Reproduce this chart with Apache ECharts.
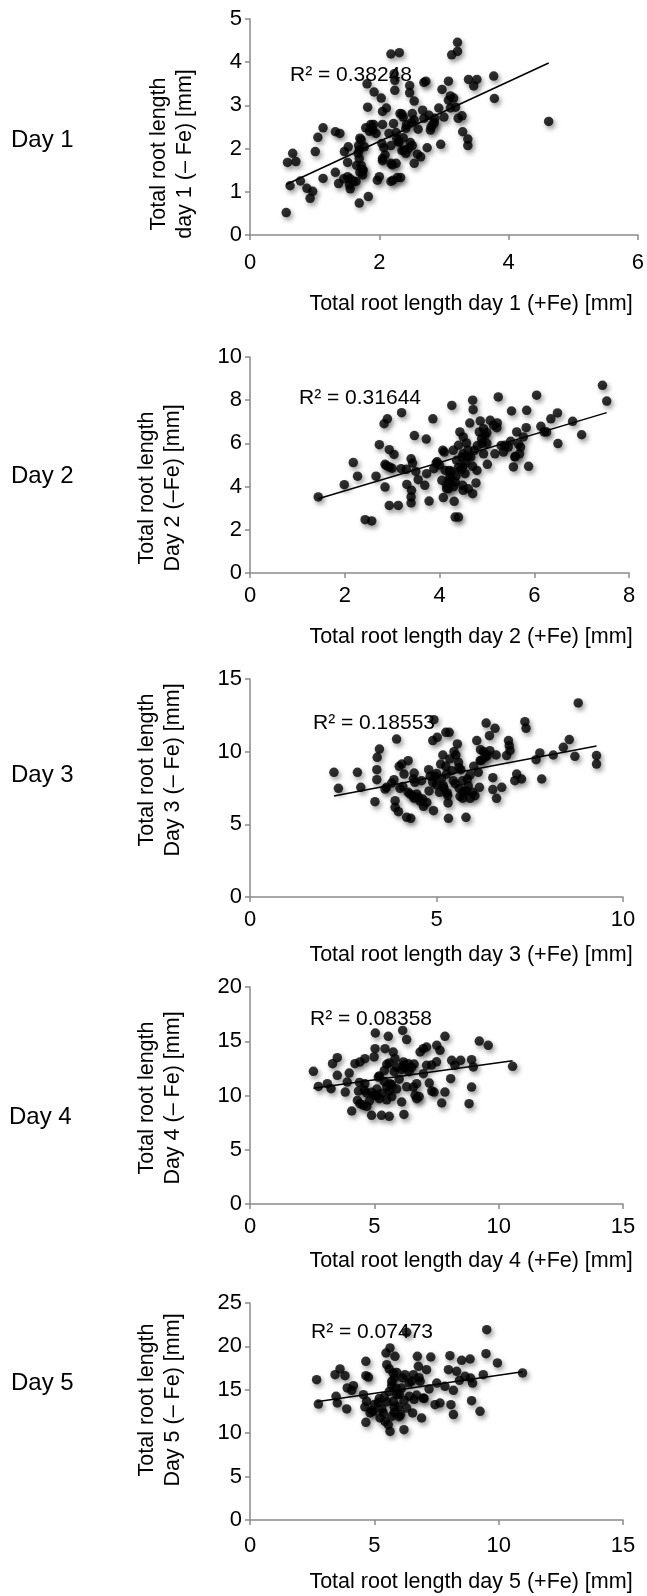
<!DOCTYPE html>
<html><head><meta charset="utf-8">
<script src="https://cdn.jsdelivr.net/npm/echarts@6/dist/echarts.min.js"></script>
<style>html,body{margin:0;padding:0;background:#fff}#c{width:647px;height:1596px}</style>
</head><body><div id="c"></div>
<script>
const day1 = [[0.56,0.52],[0.62,1.14],[0.58,1.68],[0.71,1.70],[0.66,1.89],[0.78,1.25],[0.88,1.08],[0.97,1.01],[0.93,0.85],[1.01,1.93],[1.05,2.26],[1.13,2.48],[1.13,1.31],[1.32,2.39],[1.39,2.35],[1.32,1.45],[1.37,1.19],[1.46,1.93],[1.52,2.04],[1.51,1.68],[1.51,1.35],[1.54,1.16],[1.55,1.07],[1.64,1.24],[1.69,0.74],[1.83,0.89],[1.67,1.89],[1.69,1.97],[1.69,1.77],[1.74,1.51],[1.74,1.39],[1.72,1.61],[1.65,1.61],[1.68,2.07],[1.70,2.24],[1.77,2.04],[1.79,2.48],[1.82,2.96],[1.81,3.50],[1.91,2.56],[1.90,2.43],[1.87,2.56],[1.92,3.31],[2.03,3.17],[2.05,2.86],[2.11,2.94],[2.05,2.56],[2.04,2.12],[2.07,2.02],[2.05,1.77],[2.09,1.85],[1.97,1.27],[2.00,1.35],[2.18,4.19],[2.31,4.22],[2.23,3.73],[2.24,3.58],[2.24,3.35],[2.15,2.35],[2.18,2.07],[2.18,1.66],[2.26,1.66],[2.21,1.27],[2.28,1.33],[2.33,1.33],[2.18,1.24],[2.22,2.58],[2.26,2.37],[2.32,2.81],[2.37,2.73],[2.30,2.16],[2.37,2.25],[2.38,1.97],[2.41,1.89],[2.47,3.46],[2.47,3.29],[2.54,3.10],[2.51,2.81],[2.54,2.66],[2.42,2.55],[2.48,2.14],[2.51,2.07],[2.54,1.66],[2.59,1.87],[2.64,1.81],[2.72,3.56],[2.69,3.53],[2.67,2.89],[2.69,2.70],[2.77,2.77],[2.79,2.43],[2.83,2.56],[2.74,2.02],[2.95,2.10],[2.86,2.70],[2.92,2.94],[2.97,3.37],[3.07,3.56],[3.00,2.73],[3.07,3.12],[3.10,3.22],[3.15,3.17],[3.18,2.96],[3.21,4.46],[3.21,4.25],[3.12,4.17],[3.10,2.94],[3.22,2.70],[3.28,2.76],[3.29,2.39],[3.37,2.22],[3.37,2.07],[3.38,3.60],[3.51,3.60],[3.46,3.45],[3.77,3.68],[3.78,3.16],[4.62,2.63],[2.41,2.47],[2.27,2.23],[1.55,1.30],[1.60,1.25],[1.70,1.45],[1.75,1.50],[1.72,2.20],[1.85,2.40],[1.95,2.35],[2.05,1.72],[2.20,1.62],[2.35,1.95],[2.45,2.00],[2.30,2.15],[2.50,2.60],[2.60,2.45],[2.35,2.80],[2.80,2.50],[2.85,2.60],[1.45,1.30]];
const day2 = [[1.44,3.52],[1.99,4.09],[2.18,5.11],[2.27,4.48],[2.43,2.47],[2.57,2.41],[2.66,4.48],[2.73,5.94],[2.83,6.91],[2.90,7.14],[2.85,5.03],[2.85,3.98],[2.94,3.13],[3.13,3.13],[2.94,5.71],[3.04,5.49],[2.94,4.91],[3.20,7.42],[3.19,4.83],[3.40,5.29],[3.43,5.09],[3.31,4.10],[3.41,3.83],[3.40,3.52],[3.40,3.24],[3.47,6.36],[3.55,4.32],[3.69,4.06],[3.72,6.20],[3.73,4.60],[3.78,3.33],[3.86,7.14],[3.88,4.83],[3.93,5.09],[4.07,5.68],[4.08,3.49],[4.05,4.29],[4.15,4.06],[4.15,3.90],[4.12,4.75],[4.21,4.75],[4.26,7.76],[4.29,5.68],[4.22,4.44],[4.19,3.90],[4.31,3.32],[4.33,2.59],[4.40,2.59],[4.33,4.21],[4.36,5.22],[4.40,5.91],[4.43,6.53],[4.50,6.30],[4.47,5.37],[4.50,5.52],[4.49,4.91],[4.54,4.60],[4.49,4.06],[4.50,3.83],[4.61,3.90],[4.70,8.00],[4.71,7.56],[4.64,6.94],[4.57,6.02],[4.66,5.37],[4.70,4.94],[4.70,3.67],[4.79,4.75],[4.77,4.17],[4.74,5.68],[4.86,7.04],[4.84,6.53],[4.89,6.22],[4.93,6.68],[4.96,6.37],[5.00,6.00],[5.01,5.03],[4.93,5.52],[5.07,7.07],[5.14,6.84],[5.17,5.52],[5.21,6.73],[5.24,8.15],[5.22,6.95],[5.35,5.60],[5.38,5.91],[5.45,5.83],[5.52,7.50],[5.56,4.91],[5.59,5.37],[5.63,6.53],[5.67,5.96],[5.69,5.52],[5.71,5.83],[5.84,7.53],[5.83,6.73],[5.77,6.30],[5.88,4.94],[6.05,8.23],[6.14,6.79],[6.21,6.53],[6.26,6.53],[6.35,7.14],[6.49,7.41],[6.50,5.99],[6.81,7.02],[7.00,6.40],[7.44,8.69],[7.53,7.96],[4.20,4.30],[4.30,4.00],[4.35,4.50],[4.45,4.80],[4.55,5.10],[4.60,5.40],[4.40,4.90],[4.25,4.70],[4.00,5.00],[3.95,5.15],[4.10,5.60],[4.60,5.70],[4.80,5.90],[4.90,6.00],[5.00,6.50],[5.30,5.90],[5.50,6.10],[5.60,5.40],[3.50,4.70],[3.30,4.80],[3.00,4.85],[2.88,4.97]];
const day3 = [[2.25,8.58],[2.37,7.48],[2.88,8.58],[2.97,7.55],[3.35,6.56],[3.40,8.07],[3.40,8.76],[3.41,9.61],[3.47,10.18],[3.62,7.43],[3.66,7.55],[3.80,7.84],[3.86,8.07],[3.89,6.63],[3.89,6.17],[3.98,5.87],[3.93,10.87],[4.00,8.99],[4.07,9.15],[4.13,8.46],[4.02,7.48],[4.24,9.38],[4.24,7.20],[4.29,7.09],[4.38,8.12],[4.40,8.53],[4.42,7.89],[4.20,5.48],[4.31,5.41],[4.36,6.97],[4.47,7.09],[4.51,6.86],[4.63,6.74],[4.56,6.60],[4.65,6.24],[4.74,6.51],[4.79,8.76],[4.83,8.30],[4.90,10.76],[4.93,12.20],[4.92,5.94],[4.90,7.89],[4.96,8.30],[5.00,7.71],[5.02,10.99],[5.08,7.20],[5.11,9.15],[5.14,8.17],[5.17,9.77],[5.18,7.66],[5.25,11.33],[5.34,11.33],[5.25,8.99],[5.27,8.46],[5.29,7.16],[5.31,6.47],[5.32,5.41],[5.36,9.50],[5.41,8.69],[5.45,8.00],[5.47,10.00],[5.52,9.77],[5.56,10.53],[5.59,9.27],[5.61,7.48],[5.63,6.93],[5.65,8.76],[5.70,8.00],[5.72,7.20],[5.79,5.48],[5.83,8.12],[5.85,7.66],[5.90,6.79],[5.97,7.20],[6.03,6.97],[6.08,10.76],[6.12,8.58],[6.15,7.55],[6.17,9.38],[6.18,10.14],[6.26,10.00],[6.33,11.97],[6.36,9.73],[6.42,11.10],[6.43,10.07],[6.51,8.21],[6.51,7.39],[6.57,11.61],[6.60,9.77],[6.61,6.79],[6.75,7.55],[6.88,9.73],[6.93,10.76],[6.95,10.41],[6.97,10.07],[7.15,8.46],[7.10,8.00],[7.28,8.12],[7.37,12.06],[7.40,11.61],[7.67,9.45],[7.77,9.91],[7.82,8.12],[8.13,9.77],[8.40,10.30],[8.56,10.83],[8.71,9.68],[8.80,13.35],[9.29,9.73],[9.29,9.15],[5.20,7.50],[5.50,7.80],[5.80,7.30],[4.60,8.00],[4.80,7.30],[5.00,8.50],[5.60,8.90],[5.90,8.40],[6.00,9.00],[6.20,9.40],[6.30,9.60],[4.40,6.80],[4.10,7.60],[5.30,7.00],[5.70,6.80]];
const day4 = [[2.55,12.23],[2.75,10.84],[3.11,11.09],[3.26,10.63],[3.32,12.93],[3.51,13.49],[3.51,11.86],[3.83,10.32],[3.91,11.24],[3.99,12.07],[4.09,8.57],[4.22,12.93],[4.36,10.41],[4.42,13.09],[4.32,9.55],[4.42,9.25],[4.62,13.39],[4.62,11.09],[4.56,9.09],[4.69,10.23],[4.89,8.17],[4.99,13.55],[5.03,14.32],[5.04,15.76],[5.09,10.02],[5.16,11.70],[5.29,8.17],[5.43,14.32],[5.50,12.87],[5.56,15.45],[5.60,8.08],[5.63,11.09],[5.76,14.01],[5.83,13.39],[6.14,16.00],[6.30,15.15],[6.17,13.09],[6.19,8.26],[6.10,9.40],[6.23,12.57],[6.37,12.93],[6.57,10.78],[6.64,10.02],[6.70,11.09],[6.84,14.01],[6.97,14.32],[7.10,14.47],[7.10,12.78],[7.21,11.15],[7.31,10.41],[7.40,10.32],[7.51,14.62],[7.64,14.16],[7.71,9.31],[7.84,15.45],[7.84,10.32],[8.07,11.55],[8.11,13.24],[8.24,12.78],[8.47,13.24],[8.81,9.25],[8.91,10.78],[8.91,13.30],[8.98,12.63],[9.22,15.02],[9.58,14.62],[10.56,12.69],[6.97,12.01],[5.20,11.80],[5.40,11.30],[5.50,10.80],[5.60,10.40],[5.70,11.00],[5.80,12.20],[5.90,10.60],[6.00,11.50],[5.30,10.20],[5.50,9.60],[5.70,9.90],[5.20,9.70],[4.90,10.30],[4.80,9.50],[4.70,9.00],[6.20,12.80],[6.40,12.20],[6.50,12.60],[6.60,12.90],[5.10,10.60],[5.00,10.00],[5.40,12.30],[5.60,13.00],[5.90,12.60],[6.10,12.40],[4.40,11.20],[4.60,10.50],[6.30,10.80],[6.70,9.70],[6.80,9.90],[7.30,12.80],[7.50,13.10]];
const day5 = [[2.68,16.17],[2.75,13.36],[3.42,16.74],[3.46,14.25],[3.51,13.48],[3.62,17.40],[3.82,16.63],[3.89,12.79],[3.91,15.21],[4.16,15.48],[4.09,14.94],[4.56,14.44],[4.66,16.63],[4.66,18.28],[4.76,16.47],[4.62,13.02],[4.66,11.25],[4.83,12.33],[4.69,13.67],[4.96,12.52],[5.16,13.56],[5.23,11.75],[5.36,12.33],[5.43,11.37],[5.47,19.24],[5.50,17.90],[5.56,10.98],[5.63,19.82],[5.63,10.21],[5.70,11.94],[5.76,13.67],[5.83,18.86],[5.76,16.94],[5.70,15.98],[5.87,15.21],[5.90,14.44],[5.97,13.10],[6.06,12.14],[6.14,16.36],[6.19,10.41],[6.23,16.74],[6.30,21.62],[6.41,14.25],[6.54,12.33],[6.57,16.74],[6.73,18.86],[6.77,17.70],[6.84,15.98],[6.90,11.75],[6.97,14.05],[7.10,17.32],[7.27,18.78],[7.44,13.29],[7.51,15.78],[7.64,13.48],[7.84,15.40],[7.98,17.32],[8.04,18.93],[8.08,13.29],[8.18,14.94],[8.18,12.14],[8.31,17.13],[8.42,16.09],[8.51,18.39],[8.65,16.55],[8.85,18.55],[8.91,13.75],[8.87,16.36],[8.95,15.78],[9.25,12.52],[9.38,16.74],[9.49,19.16],[9.52,21.93],[9.95,18.09],[10.96,16.94],[5.40,14.20],[5.60,14.80],[5.70,15.50],[5.80,16.30],[5.90,17.00],[6.00,14.50],[6.10,15.20],[5.50,13.60],[5.30,12.80],[5.80,13.00],[6.20,13.80],[6.40,15.80],[6.60,13.90],[6.70,14.40],[6.80,16.40],[5.20,14.00],[5.00,13.30],[4.90,12.60],[5.60,17.40],[5.80,12.40],[6.00,11.90],[6.30,12.90],[6.50,16.00],[7.00,14.00],[7.20,15.10]];

const xMax = [6, 8, 10, 15, 15];
const xStep = [2, 2, 5, 5, 5];
const yMax = [5, 10, 15, 20, 25];
const yStep = [1, 2, 5, 5, 5];
const dayLabels = ['Day 1', 'Day 2', 'Day 3', 'Day 4', 'Day 5'];
const r2Labels = ['R² = 0.38248', 'R² = 0.31644', 'R² = 0.18553', 'R² = 0.08358', 'R² = 0.07473'];
const xTitles = ['Total root length day 1 (+Fe) [mm]', 'Total root length day 2 (+Fe) [mm]', 'Total root length day 3 (+Fe) [mm]', 'Total root length day 4 (+Fe) [mm]', 'Total root length day 5 (+Fe) [mm]'];
const yTitles = ['Total root length\nday 1 (– Fe) [mm]', 'Total root length\nDay 2 (–Fe) [mm]', 'Total root length\nDay 3 (– Fe) [mm]', 'Total root length\nDay 4 (– Fe) [mm]', 'Total root length\nDay 5 (– Fe) [mm]'];

const datasets = [day1, day2, day3, day4, day5];
const FONT = '"Liberation Sans", Arial, Helvetica, sans-serif';

// layout (pixels)
const grids = [
  {left: 250, top: 19, width: 390, height: 216},
  {left: 250, top: 357, width: 379, height: 216},
  {left: 250, top: 679, width: 373, height: 218},
  {left: 250, top: 987, width: 373, height: 217},
  {left: 250, top: 1303, width: 373, height: 217}
];
const xLabelMargin = [17, 12, 12, 12, 15];
const dayPos = [[11, 140], [11, 476], [11, 775], [9, 1117], [11, 1383]];
const r2Pos = [[290, 75], [299, 398], [313, 723], [310, 1019], [311, 1332]];
const xTitlePos = [[471, 304], [471, 637], [471, 955], [471, 1261], [471, 1582]];
const yTitlePos = [[172, 154], [160, 488], [160, 770], [160, 1098], [160, 1400]];

function fit(d) {
  const n = d.length;
  let sx = 0, sy = 0, sxx = 0, sxy = 0, mn = Infinity, mx = -Infinity;
  d.forEach(p => { sx += p[0]; sy += p[1]; sxx += p[0]*p[0]; sxy += p[0]*p[1]; mn = Math.min(mn, p[0]); mx = Math.max(mx, p[0]); });
  const b = (n*sxy - sx*sy) / (n*sxx - sx*sx);
  const a = (sy - b*sx) / n;
  return [[mn, a + b*mn], [mx, a + b*mx]];
}

const axisColor = '#8a8a8a';
const option = {
  animation: false,
  backgroundColor: '#fff',
  grid: grids,
  xAxis: grids.map((g, i) => ({
    type: 'value', gridIndex: i, min: 0, max: xMax[i], interval: xStep[i],
    axisLine: {show: true, lineStyle: {color: axisColor, width: 1.5}},
    axisTick: {show: true, length: 5, lineStyle: {color: axisColor, width: 1.5}},
    splitLine: {show: false},
    axisLabel: {color: '#000', fontSize: 22, fontFamily: FONT, margin: xLabelMargin[i]}
  })),
  yAxis: grids.map((g, i) => ({
    type: 'value', gridIndex: i, min: 0, max: yMax[i], interval: yStep[i],
    axisLine: {show: true, lineStyle: {color: axisColor, width: 1.5}},
    axisTick: {show: true, length: 5, lineStyle: {color: axisColor, width: 1.5}},
    splitLine: {show: false},
    axisLabel: {color: '#000', fontSize: 22, fontFamily: FONT, margin: 8}
  })),
  series: [],
  graphic: []
};

datasets.forEach((d, i) => {
  option.series.push({
    type: 'scatter', xAxisIndex: i, yAxisIndex: i, data: d, symbol: 'circle', symbolSize: 9.5,
    itemStyle: {color: '#000', shadowBlur: 5, shadowColor: 'rgba(0,0,0,0.5)', shadowOffsetX: 2, shadowOffsetY: 3},
    z: 2
  });
  option.series.push({
    type: 'line', xAxisIndex: i, yAxisIndex: i, data: fit(d), symbol: 'none',
    lineStyle: {color: '#000', width: 1.5}, z: 3, silent: true
  });
  option.graphic.push({
    type: 'text', x: dayPos[i][0], y: dayPos[i][1],
    style: {text: dayLabels[i], fill: '#000', fontSize: 24, fontFamily: FONT, textAlign: 'left', textVerticalAlign: 'middle', align: 'left', verticalAlign: 'middle'}
  });
  option.graphic.push({
    type: 'text', x: r2Pos[i][0], y: r2Pos[i][1], z: 10,
    style: {text: r2Labels[i], fill: '#000', fontSize: 21, fontFamily: FONT, textAlign: 'left', textVerticalAlign: 'middle', align: 'left', verticalAlign: 'middle'}
  });
  option.graphic.push({
    type: 'text', x: xTitlePos[i][0], y: xTitlePos[i][1],
    style: {text: xTitles[i], fill: '#000', fontSize: 21.5, fontFamily: FONT, textAlign: 'center', textVerticalAlign: 'middle', align: 'center', verticalAlign: 'middle'}
  });
  option.graphic.push({
    type: 'text', x: yTitlePos[i][0], y: yTitlePos[i][1], rotation: Math.PI / 2,
    style: {text: yTitles[i], fill: '#000', fontSize: 21.5, lineHeight: 26, fontFamily: FONT, textAlign: 'center', textVerticalAlign: 'middle', align: 'center', verticalAlign: 'middle'}
  });
});

const chart = echarts.init(document.getElementById('c'), null, {renderer: 'canvas', width: 647, height: 1596});
chart.setOption(option);
</script>
</body></html>
